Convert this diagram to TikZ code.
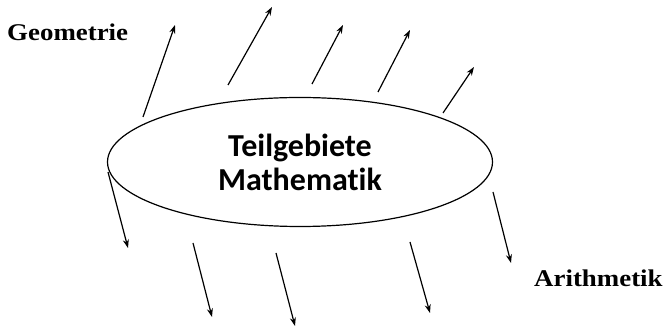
\documentclass[tikz,border=0pt]{standalone}
\usepackage{fontspec}
\setmainfont{Liberation Serif}
\newfontfamily\calib[Ligatures=NoCommon]{Carlito}
\usetikzlibrary{shapes.geometric,arrows.meta}
\begin{document}
\begin{tikzpicture}[x=1pt,y=-1pt,
  arr/.style={line width=1.2pt,-{Stealth[length=8.5pt,width=6pt]}},
  lbl/.style={font=\fontsize{24}{28}\selectfont\bfseries,inner sep=0pt,anchor=base west}]
\useasboundingbox (0,0) rectangle (665,328);
\node[ellipse,draw,line width=1.2pt,minimum width=385pt,minimum height=129pt,inner sep=0pt,
  align=center,font=\calib\fontsize{32}{34}\selectfont\bfseries] (ell) at (300,162)
  {Teilgebiete\\Mathematik};
\node[lbl,xscale=1.12] (geo) at (7,41) {Geometrie};
\node[lbl,xscale=1.12] (ari) at (534,287) {Arithmetik};
% upper arrows
\coordinate (u1s) at (143,117); \coordinate (u1e) at (175,25);
\coordinate (u2s) at (228,85);  \coordinate (u2e) at (272,7);
\coordinate (u3s) at (312,84);  \coordinate (u3e) at (343,25);
\coordinate (u4s) at (378,92);  \coordinate (u4e) at (410,30);
\coordinate (u5s) at (443,113); \coordinate (u5e) at (474,67);
% lower arrows
\coordinate (l1s) at (108,172); \coordinate (l1e) at (128,248);
\coordinate (l2s) at (193,243); \coordinate (l2e) at (212,317);
\coordinate (l3s) at (276,253); \coordinate (l3e) at (295,326);
\coordinate (l4s) at (410,242); \coordinate (l4e) at (430,313);
\coordinate (l5s) at (493,192); \coordinate (l5e) at (511,263);
\foreach \a in {u1,u2,u3,u4,u5,l1,l2,l3,l4,l5}
  \draw[arr] (\a s) -- (\a e);
\end{tikzpicture}
\end{document}
